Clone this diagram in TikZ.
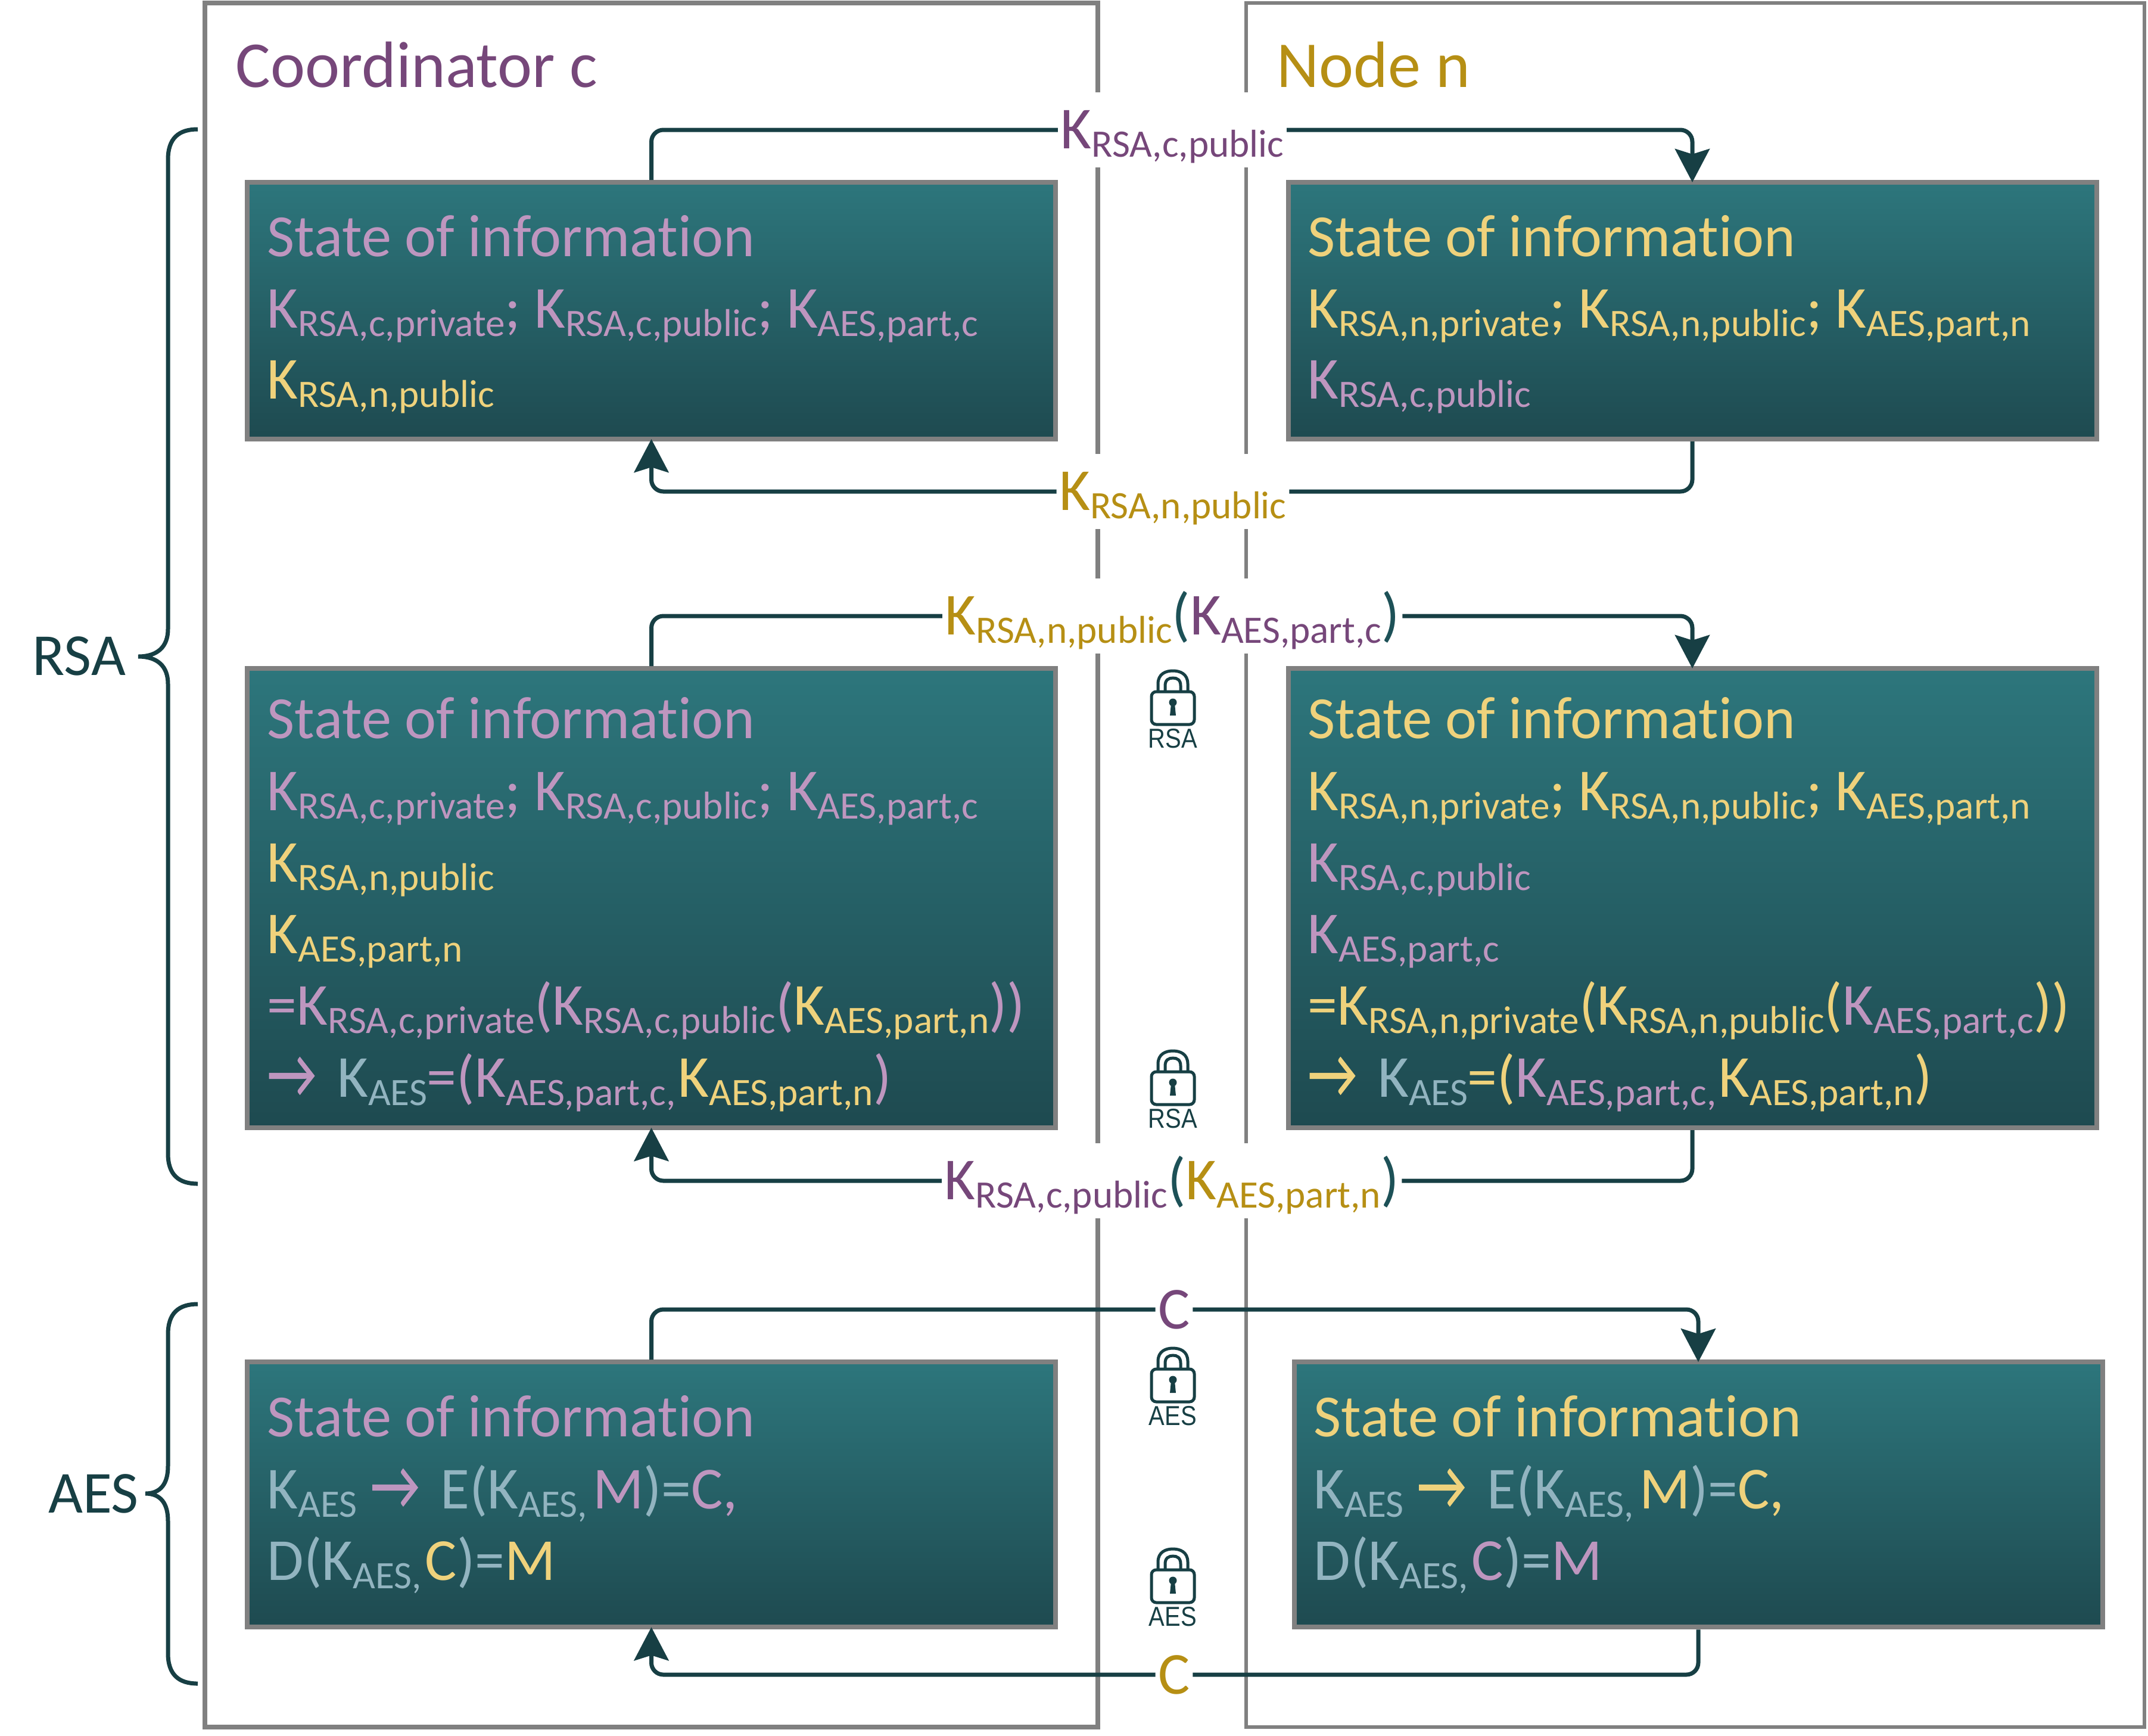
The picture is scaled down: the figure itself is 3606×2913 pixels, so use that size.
\documentclass[tikz,border=0pt]{standalone}
\usepackage{fontspec}
\setmainfont{Carlito}[Ligatures=NoCommon]
\newfontfamily\lockfont[FakeStretch=0.87]{Liberation Sans}
\newfontfamily\arrfont[FakeBold=1,FakeStretch=0.78]{Carlito}
\usetikzlibrary{arrows.meta}
\definecolor{pnk}{HTML}{BE96BF}
\definecolor{ylw}{HTML}{EFD27C}
\definecolor{ltl}{HTML}{92B4C0}
\definecolor{pur}{HTML}{76477A}
\definecolor{gld}{HTML}{B68F14}
\definecolor{drk}{HTML}{173F44}
\definecolor{par}{HTML}{1D5157}
\definecolor{frm}{HTML}{808080}
\definecolor{tp}{HTML}{2D767C}
\definecolor{bt}{HTML}{1E4A50}
\newcommand\subs[1]{\raisebox{-3.5pt}{\fontsize{16.3pt}{16.3pt}\selectfont #1}}
\newcommand\kk[1]{K\subs{#1}}
\newcommand\cc[2]{{\color{#1}#2}}
\newcommand\arw{{\arrfont\fontsize{29}{30}\selectfont →\kern3.2pt}}
\tikzset{
  x=0.25pt,y=-0.25pt,
  frame/.style={draw=frm,inner sep=0pt,outer sep=0pt},
  infobox/.style={draw=frm,line width=2pt,top color=tp,bottom color=bt,inner sep=0pt,minimum width=339.25pt},
  txt/.style={anchor=base west,inner sep=0pt,font=\fontsize{25}{30}\selectfont},
  stt/.style={anchor=base west,inner sep=0pt,font=\fontsize{25.1}{30}\selectfont},
  head/.style={anchor=base west,inner sep=0pt,font=\fontsize{27.5}{30}\selectfont},
  lbl/.style={fill=white,inner xsep=1pt,inner ysep=0pt,text height=23.5pt,text depth=7.8pt,font=\fontsize{25}{30}\selectfont},
  clbl/.style={fill=white,inner xsep=1pt,inner ysep=0pt,text height=16pt,text depth=0pt,font=\fontsize{25}{30}\selectfont},
  flow/.style={draw=drk,line width=1.75pt,rounded corners=5pt},
  tipflow/.style={flow,shorten >=-1pt,-{Stealth[length=14pt,width=14.5pt,inset=2.2pt]}},
  brace/.style={draw=drk,line width=1.75pt},
  lockicon/.pic={
    \draw[drk,line width=1.25pt] (-25,36) -- (-25,25) .. controls (-25,8) and (-12,3) .. (0,3) .. controls (12,3) and (25,8) .. (25,25) -- (25,36);
    \draw[drk,line width=1.25pt] (-13,36) -- (-13,28) .. controls (-13,18) and (-7,15) .. (0,15) .. controls (7,15) and (13,18) .. (13,28) -- (13,36);
    \draw[drk,line width=1.25pt,rounded corners=2pt] (-36,38) rectangle (36,93);
    \fill[drk] (0,56) circle (6.5);
    \fill[drk] (-3,58) -- (3,58) -- (5,78) -- (-5,78) -- cycle;
    \node[anchor=base,inner sep=0pt,text=drk,font=\lockfont\fontsize{11.5}{12}\selectfont] (-t) at (0,132) {#1};
  }
}
\begin{document}
\begin{tikzpicture}
\useasboundingbox (0,0) rectangle (3606,2913);
\fill[white] (0,0) rectangle (3606,2913);
% frames
\node[frame,line width=2.2pt,minimum width=374.75pt,minimum height=723.5pt] (fc) at (1093.5,1452) {};
\node[frame,line width=1.7pt,minimum width=377pt,minimum height=723.5pt] (fn) at (2846,1452) {};
\node[head,text=pur] (tc) at (395,146) {Coordinator c};
\node[head,text=gld] (tn) at (2143,146) {Node n};
% boxes
\node[infobox,minimum height=107.75pt] (c1) at (1093.5,521.5) {};
\node[infobox,minimum height=107.75pt] (n1) at (2841,521.5) {};
\node[infobox,minimum height=192.75pt] (c2) at (1093.5,1507.5) {};
\node[infobox,minimum height=192.75pt] (n2) at (2841,1507.5) {};
\node[infobox,minimum height=111.25pt] (c3) at (1093.5,2508.75) {};
\node[infobox,minimum height=111.25pt] (n3) at (2851,2508.75) {};
% labels
\node[lbl,text=pur] (l1) at (1968,218) {\kk{RSA,c,public}};
\node[lbl,text=gld] (l2) at (1969,825) {\kk{RSA,n,public}};
\node[lbl] (l3) at (1968,1034) {\cc{gld}{\kk{RSA,n,public}}\cc{par}{(}\cc{pur}{\kk{AES,part,c}}\cc{par}{)}};
\node[lbl] (l4) at (1967,1982) {\cc{pur}{\kk{RSA,c,public}}\cc{par}{(}\cc{gld}{\kk{AES,part,n}}\cc{par}{)}};
\node[clbl,text=pur] (l5) at (1971,2198) {C};
\node[clbl,text=gld] (l6) at (1971,2811) {C};
% connectors
\draw[flow] (c1.north) |- (l1.west);
\draw[tipflow] (l1.east) -| (n1.north);
\draw[flow] (n1.south) |- (l2.east);
\draw[tipflow] (l2.west) -| (c1.south);
\draw[flow] (c2.north) |- (l3.west);
\draw[tipflow] (l3.east) -| (n2.north);
\draw[flow] (n2.south) |- (l4.east);
\draw[tipflow] (l4.west) -| (c2.south);
\draw[flow] (c3.north) |- (l5.west);
\draw[tipflow] (l5.east) -| (n3.north);
\draw[flow] (n3.south) |- (l6.east);
\draw[tipflow] (l6.west) -| (c3.south);
% box texts c1
\node[stt,text=pnk] (c1a) at (448,430) {State of information};
\node[txt,text=pnk] (c1b) at (448,550) {\kk{RSA,c,private}; \kk{RSA,c,public}; \kk{AES,part,c}};
\node[txt,text=ylw] (c1c) at (448,669) {\kk{RSA,n,public}};
% n1
\node[stt,text=ylw] (n1a) at (2195,430) {State of information};
\node[txt,text=ylw] (n1b) at (2195,550) {\kk{RSA,n,private}; \kk{RSA,n,public}; \kk{AES,part,n}};
\node[txt,text=pnk] (n1c) at (2195,669) {\kk{RSA,c,public}};
% c2
\node[stt,text=pnk] (c2a) at (448,1239) {State of information};
\node[txt,text=pnk] (c2b) at (448,1360) {\kk{RSA,c,private}; \kk{RSA,c,public}; \kk{AES,part,c}};
\node[txt,text=ylw] (c2c) at (448,1480) {\kk{RSA,n,public}};
\node[txt,text=ylw] (c2d) at (448,1600) {\kk{AES,part,n}};
\node[txt,text=pnk] (c2e) at (448,1720) {=\kk{RSA,c,private}(\kk{RSA,c,public}(\cc{ylw}{\kk{AES,part,n}}))};
\node[txt,text=pnk] (c2f) at (448,1841) {\arw{} \cc{ltl}{\kk{AES}}=(\kk{AES,part,c,}\kern1pt\cc{ylw}{\kk{AES,part,n}})};
% n2
\node[stt,text=ylw] (n2a) at (2195,1239) {State of information};
\node[txt,text=ylw] (n2b) at (2195,1360) {\kk{RSA,n,private}; \kk{RSA,n,public}; \kk{AES,part,n}};
\node[txt,text=pnk] (n2c) at (2195,1480) {\kk{RSA,c,public}};
\node[txt,text=pnk] (n2d) at (2195,1600) {\kk{AES,part,c}};
\node[txt,text=ylw] (n2e) at (2195,1720) {=\kk{RSA,n,private}(\kk{RSA,n,public}(\cc{pnk}{\kk{AES,part,c}}))};
\node[txt,text=ylw] (n2f) at (2195,1841) {\arw{} \cc{ltl}{\kk{AES}}=(\cc{pnk}{\kk{AES,part,c,}}\kern1pt\kk{AES,part,n})};
% c3
\node[stt,text=pnk] (c3a) at (448,2411) {State of information};
\node[txt,text=ltl] (c3b) at (448,2532) {\kk{AES} \cc{pnk}{\arw} E(\kk{AES,}\kern2.3pt\cc{pnk}{M})=\cc{pnk}{C,}};
\node[txt,text=ltl] (c3c) at (448,2652) {D(\kk{AES,}\kern1.5pt\cc{ylw}{C})=\cc{ylw}{M}};
% n3
\node[stt,text=ylw] (n3a) at (2205,2411) {State of information};
\node[txt,text=ltl] (n3b) at (2205,2532) {\kk{AES} \cc{ylw}{\arw} E(\kk{AES,}\kern2.3pt\cc{ylw}{M})=\cc{ylw}{C,}};
\node[txt,text=ltl] (n3c) at (2205,2652) {D(\kk{AES,}\kern1.5pt\cc{pnk}{C})=\cc{pnk}{M}};
% locks
\pic (lk1) at (1969,1123) {lockicon=RSA};
\pic (lk2) at (1969,1761) {lockicon=RSA};
\pic (lk3) at (1969,2260) {lockicon=AES};
\pic (lk4) at (1969,2597) {lockicon=AES};
% braces
\draw[brace] (332,217) .. controls (300,217) and (282,232) .. (282,268) -- (282,1056) .. controls (282,1085) and (265,1102) .. (232,1102) .. controls (265,1102) and (282,1119) .. (282,1148) -- (282,1936) .. controls (282,1972) and (300,1987) .. (332,1987);
\draw[brace] (332,2189) .. controls (300,2189) and (282,2204) .. (282,2240) -- (282,2461) .. controls (282,2490) and (270,2507) .. (244,2507) .. controls (270,2507) and (282,2524) .. (282,2553) -- (282,2775) .. controls (282,2811) and (300,2826) .. (332,2826);
\node[txt,anchor=base,text=drk] (rsa) at (133,1133) {RSA};
\node[txt,anchor=base,text=drk] (aes) at (157,2539) {AES};
\end{tikzpicture}
\end{document}
